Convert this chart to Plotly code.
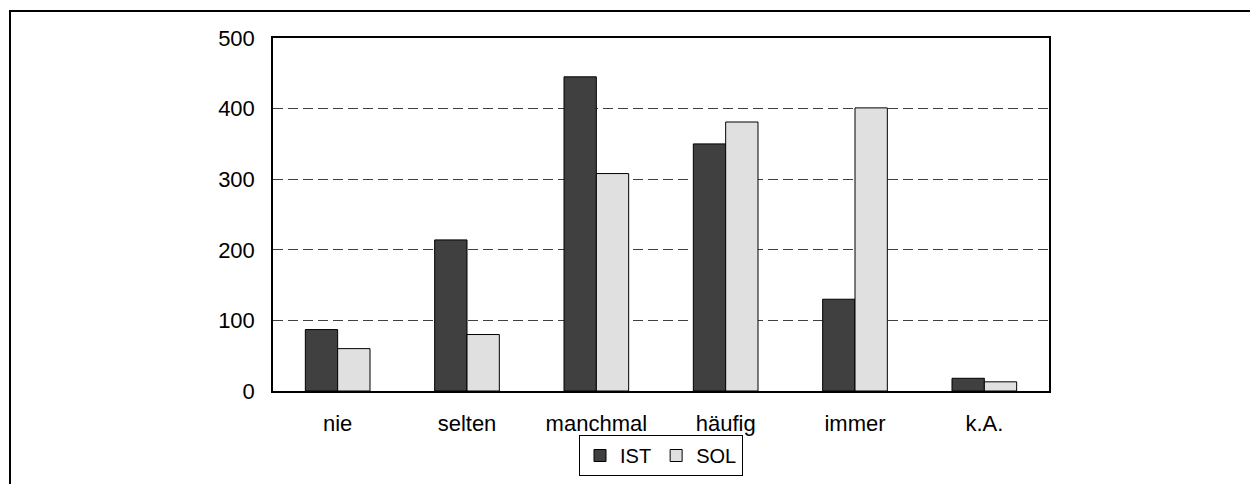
import plotly.graph_objects as go

categories = ["nie", "selten", "manchmal", "häufig", "immer", "k.A."]
ist_values = [87, 214, 445, 350, 130, 18]
sol_values = [60, 80, 308, 381, 401, 13]
y_ticks = [0, 100, 200, 300, 400, 500]

# page body has an 8px margin, so work in figure coordinates shifted by 8px
OFF = 8
W, H = 1258 - OFF, 484 - OFF
L, R, T, B = 273 - OFF, 1049 - OFF, 38 - OFF, 391 - OFF
pw, ph = R - L, B - T

fig = go.Figure()
fig.add_trace(go.Bar(x=categories, y=ist_values, name="IST",
                     marker=dict(color="#404040", line=dict(color="black", width=1))))
fig.add_trace(go.Bar(x=categories, y=sol_values, name="SOL",
                     marker=dict(color="#e0e0e0", line=dict(color="black", width=1))))

font = dict(family="Liberation Sans, Arial, sans-serif", size=22, color="black")

fig.update_layout(
    width=W, height=H,
    margin=dict(l=L, r=W - R, t=T, b=H - B, pad=0, autoexpand=False),
    paper_bgcolor="white", plot_bgcolor="white",
    barmode="group", bargap=0.5, bargroupgap=0,
    font=font,
    showlegend=True,
    legend=dict(orientation="h", x=0.5, xanchor="center",
                yref="container", y=1 - (435 - OFF) / H, yanchor="top",
                bordercolor="black", borderwidth=1,
                font=dict(family="Liberation Sans, Arial, sans-serif", size=20, color="black"),
                itemwidth=30, tracegroupgap=0, traceorder="normal"),
    xaxis=dict(showgrid=False, showline=True, linecolor="black", linewidth=1.5,
               mirror=True, ticks="", ticklabelstandoff=12, tickfont=font,
               automargin=False),
    yaxis=dict(range=[0, 500], tickvals=y_ticks, showgrid=True, gridcolor="#404040",
               griddash="10px,5px", gridwidth=1, showline=True, linecolor="black",
               linewidth=1.5, mirror=True, ticks="", ticklabelstandoff=12,
               tickfont=font, zeroline=False, automargin=False),
    shapes=[dict(type="rect", xref="paper", yref="paper",
                 x0=(10 - OFF - L) / pw, x1=(1257 - OFF - L) / pw,
                 y0=(B - 500) / ph, y1=(B - (11 - OFF)) / ph,
                 line=dict(color="black", width=2), layer="below")],
)

fig.write_html("out.html")
